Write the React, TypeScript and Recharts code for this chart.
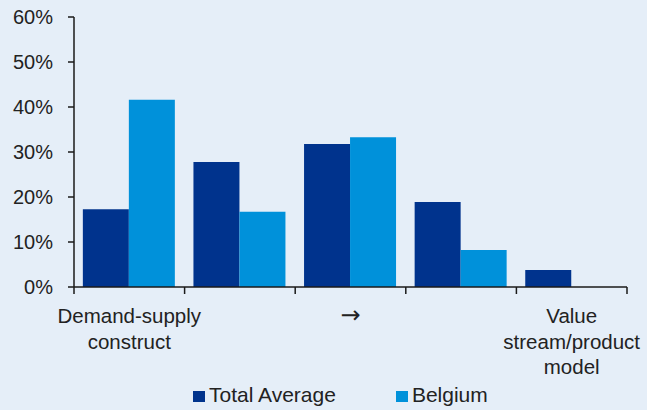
import React from 'react';
import { BarChart, Bar, XAxis, YAxis, Legend } from 'recharts';

const categories = ['cat1', 'cat2', 'cat3', 'cat4', 'cat5'];
const categoryLabels: string[][] = [
  ['Demand-supply', 'construct'],
  [],
  ['→'],
  [],
  ['Value', 'stream/product', 'model'],
];
const totalAverage = [17.3, 27.8, 31.8, 18.9, 3.8];
const belgium = [41.6, 16.7, 33.3, 8.2, 0];
const yTicks = [0, 10, 20, 30, 40, 50, 60];
const seriesNames = ['Total Average', 'Belgium'];
const seriesColors = ['#00338D', '#0091DA'];

const data = categories.map((c, i) => ({
  name: c,
  total: totalAverage[i],
  belgium: belgium[i],
}));

const W = 647;
const H = 410;
const MARGIN = { top: 17, right: 20, bottom: 0, left: 0 };
const Y_WIDTH = 74;
const BAND = (W - Y_WIDTH - MARGIN.right) / categories.length;
const TEXT = '#222222';
const AXIS = '#1a1a1a';
const FONT = '"Liberation Sans", Arial, sans-serif';

const XTick = (props: any) => {
  const { x, y, payload } = props;
  const idx = categories.indexOf(payload.value);
  const half = payload && payload.offset ? payload.offset : BAND / 2;
  const lines = categoryLabels[idx] || [];
  const isArrow = lines.length === 1 && lines[0] === '→';
  return (
    <g>
      <line x1={x - half} y1={y} x2={x - half} y2={y + 7} stroke={AXIS} strokeWidth={1.5} />
      {idx === categories.length - 1 && (
        <line x1={x + half} y1={y} x2={x + half} y2={y + 7} stroke={AXIS} strokeWidth={1.5} />
      )}
      {lines.length > 0 && (
        <text
          x={x}
          y={y}
          textAnchor="middle"
          fontSize={isArrow ? 24 : 20.5}
          fill={TEXT}
          fontFamily={isArrow ? '"DejaVu Sans", sans-serif' : FONT}
        >
          {lines.map((l, i) => (
            <tspan key={i} x={x} y={y + 35.7 + i * 25.8}>
              {l}
            </tspan>
          ))}
        </text>
      )}
    </g>
  );
};

const LegendContent = () => (
  <div
    style={{
      display: 'flex',
      alignItems: 'center',
      height: 30,
      paddingLeft: 193,
      fontFamily: FONT,
      fontSize: 21,
      color: TEXT,
    }}
  >
    {seriesNames.map((n, i) => (
      <div
        key={n}
        style={{ display: 'flex', alignItems: 'center', marginRight: i === 0 ? 60 : 0 }}
      >
        <span
          style={{
            display: 'inline-block',
            width: 12,
            height: 11,
            background: seriesColors[i],
            marginRight: 4,
            marginTop: 3,
          }}
        />
        <span>{n}</span>
      </div>
    ))}
  </div>
);

export default function App() {
  return (
    <div
      style={{
        position: 'absolute',
        left: 0,
        top: 0,
        width: W,
        height: H,
        background: '#E5EEF8',
        fontFamily: FONT,
      }}
    >
      <BarChart
        width={W}
        height={H}
        data={data}
        margin={MARGIN}
        barCategoryGap="8%"
        barGap={0}
      >
        <XAxis
          dataKey="name"
          type="category"
          interval={0}
          height={93}
          tickLine={false}
          tickSize={0}
          tickMargin={0}
          axisLine={{ stroke: AXIS, strokeWidth: 1.5 }}
          tick={<XTick />}
        />
        <YAxis
          type="number"
          domain={[0, 60]}
          ticks={yTicks}
          width={Y_WIDTH}
          tickSize={6}
          tickMargin={15}
          tickFormatter={(v: number) => `${v}%`}
          axisLine={{ stroke: AXIS, strokeWidth: 1.5 }}
          tickLine={{ stroke: AXIS, strokeWidth: 1.5 }}
          tick={{ fontSize: 20, fill: TEXT, fontFamily: FONT }}
        />
        <Legend
          verticalAlign="bottom"
          height={30}
          wrapperStyle={{ left: 0, width: W }}
          content={<LegendContent />}
        />
        <Bar dataKey="total" name={seriesNames[0]} fill={seriesColors[0]} isAnimationActive={false} />
        <Bar dataKey="belgium" name={seriesNames[1]} fill={seriesColors[1]} isAnimationActive={false} />
      </BarChart>
    </div>
  );
}
